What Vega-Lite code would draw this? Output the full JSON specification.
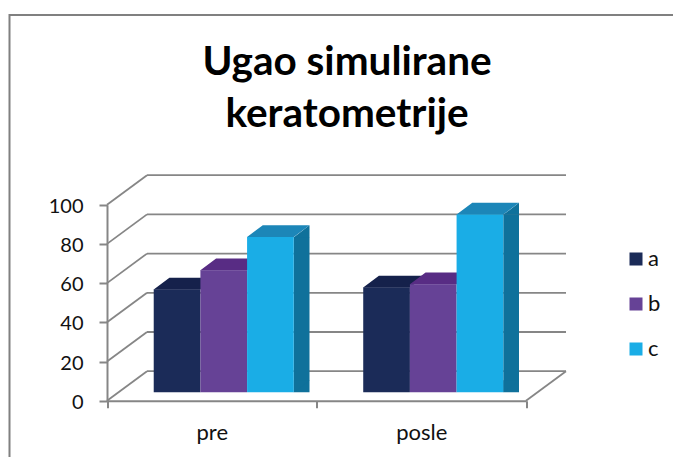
{
"$schema":"https://vega.github.io/schema/vega-lite/v6.json",
"width":680,"height":460,
"autosize":{"type":"none"},
"padding":{"left":9.5,"top":15,"right":-16.5,"bottom":-18},
"background":"white",
"config":{"view":{"stroke":"#808080","strokeWidth":2},"font":"Lato"},
"title":{"text":["Ugao simulirane","keratometrije"],"font":"Lato","fontSize":40.5,"fontWeight":"bold","color":"#000000","lineHeight":52,"anchor":"middle","frame":"group","offset":-152.5,"dx":-2.5,"baseline":"alphabetic"},
"resolve":{"scale":{"color":"independent"}},
"datasets":{
"bars":[
{"kategorija":"pre","serija":"a","vrednost":52.4},
{"kategorija":"pre","serija":"b","vrednost":62.2},
{"kategorija":"pre","serija":"c","vrednost":79.2},
{"kategorija":"posle","serija":"a","vrednost":53.4},
{"kategorija":"posle","serija":"b","vrednost":55.1},
{"kategorija":"posle","serija":"c","vrednost":90.7}],
"ticks":[{"v":0},{"v":20},{"v":40},{"v":60},{"v":80},{"v":100}]
},
"layer":[
{"data":{"name":"ticks"},
 "mark":{"type":"rule","color":"#868686","strokeWidth":1.8,"xOffset":40,"x2Offset":40,"yOffset":-29.5},
 "encoding":{
  "x":{"datum":"pre","type":"nominal","bandPosition":0,"title":null,"scale":{"domain":["pre","posle"],"range":[97.5,516.5],"padding":0}},
  "x2":{"datum":"posle","bandPosition":1},
  "y":{"field":"v","type":"quantitative","title":null,"scale":{"domain":[0,100],"range":[385.7,189.7]}}}},
{"data":{"name":"ticks"},
 "mark":{"type":"rule","color":"#868686","strokeWidth":1.8,"x2Offset":40,"y2Offset":-29.5},
 "encoding":{
  "x":{"datum":"pre","type":"nominal","bandPosition":0,"title":null},
  "x2":{"datum":"pre","bandPosition":0},
  "y":{"field":"v","type":"quantitative","title":null},
  "y2":{"field":"v"}}},
{"data":{"values":[{"v":0}]},
 "mark":{"type":"rule","color":"#868686","strokeWidth":1.8,"x2Offset":40,"y2Offset":-29.5},
 "encoding":{
  "x":{"datum":"posle","type":"nominal","bandPosition":1,"title":null},
  "x2":{"datum":"posle","bandPosition":1},
  "y":{"field":"v","type":"quantitative","title":null},
  "y2":{"field":"v"}}},
{"data":{"name":"bars"},"transform":[{"filter":"datum.serija==='c'"}],
 "mark":{"type":"bar","color":"#0f719b","width":15.7,"xOffset":89.9,"x2Offset":89.9,"yOffset":-8.5,"y2Offset":-20.2},
 "encoding":{
  "x":{"field":"kategorija","type":"nominal","sort":null,"title":null},
  "y":{"field":"vrednost","type":"quantitative","title":null}}},
{"data":{"name":"bars"},"transform":[{"filter":"datum.serija==='c'"}],
 "mark":{"type":"point","filled":true,"opacity":1,"size":40000,"color":"#0f719b","shape":"M0.2335,0.003L0.3905,-0.117L0.3905,0.003Z","xOffset":58.7,"yOffset":-8.5},
 "encoding":{
  "x":{"field":"kategorija","type":"nominal","sort":null,"title":null},
  "y":{"field":"vrednost","type":"quantitative","title":null}}},
{"data":{"name":"bars"},"transform":[{"filter":"datum.serija==='c'"}],
 "mark":{"type":"point","filled":true,"opacity":1,"size":40000,"color":"#0f719b","shape":"M0.2335,-0.12L0.3905,-0.12L0.3905,-0.117L0.2335,0Z","xOffset":58.7,"yOffset":-8.5},
 "encoding":{
  "x":{"field":"kategorija","type":"nominal","sort":null,"title":null},
  "y":{"datum":0,"type":"quantitative","title":null}}},
{"data":{"name":"bars"},
 "mark":{"type":"point","filled":true,"opacity":1,"size":40000,"shape":"M-0.2335,0.003L-0.2335,0L-0.0765,-0.117L0.3905,-0.117L0.2335,0L0.2335,0.003Z","yOffset":-8.5},
 "encoding":{
  "x":{"field":"kategorija","type":"nominal","sort":null,"title":null},
  "xOffset":{"field":"serija","type":"nominal","scale":{"domain":["a","b","c"],"paddingInner":0,"paddingOuter":0.744,"align":0.6727}},
  "y":{"field":"vrednost","type":"quantitative","title":null},
  "color":{"field":"serija","type":"nominal","scale":{"domain":["a","b","c"],"range":["#15214b","#582c84","#1c86b8"]},"legend":null}}},
{"data":{"name":"bars"},
 "mark":{"type":"bar","yOffset":-8.5,"y2Offset":-8.5},
 "encoding":{
  "x":{"field":"kategorija","type":"nominal","sort":null,"title":null,"axis":{"orient":"bottom","offset":-74.3,"labelAngle":0,"labelAlign":"center","labelFontSize":22,"labelFont":"Lato","labelColor":"#111111","labelPadding":25,"domainColor":"#868686","domainWidth":2,"tickColor":"#868686","tickWidth":2,"tickSize":7,"tickBand":"extent","grid":false}},
  "xOffset":{"field":"serija","type":"nominal"},
  "y":{"field":"vrednost","type":"quantitative","title":null,"axis":{"orient":"left","offset":-97.5,"values":[0,20,40,60,80,100],"grid":false,"labelFontSize":20,"labelFont":"Lato","labelColor":"#111111","labelPadding":16,"labelOffset":1.5,"domainColor":"#868686","domainWidth":2,"tickColor":"#868686","tickWidth":2,"tickSize":8}},
  "color":{"field":"serija","type":"nominal","scale":{"domain":["a","b","c"],"range":["#1b2b58","#664296","#1aade6"]},
   "legend":{"title":null,"orient":"none","legendX":615.5,"legendY":234,"symbolType":"square","symbolSize":169,"symbolStrokeWidth":0,"labelFontSize":22,"labelFont":"Lato","labelColor":"#111111","labelOffset":1,"rowPadding":23,"clipHeight":20}}}}
]
}
